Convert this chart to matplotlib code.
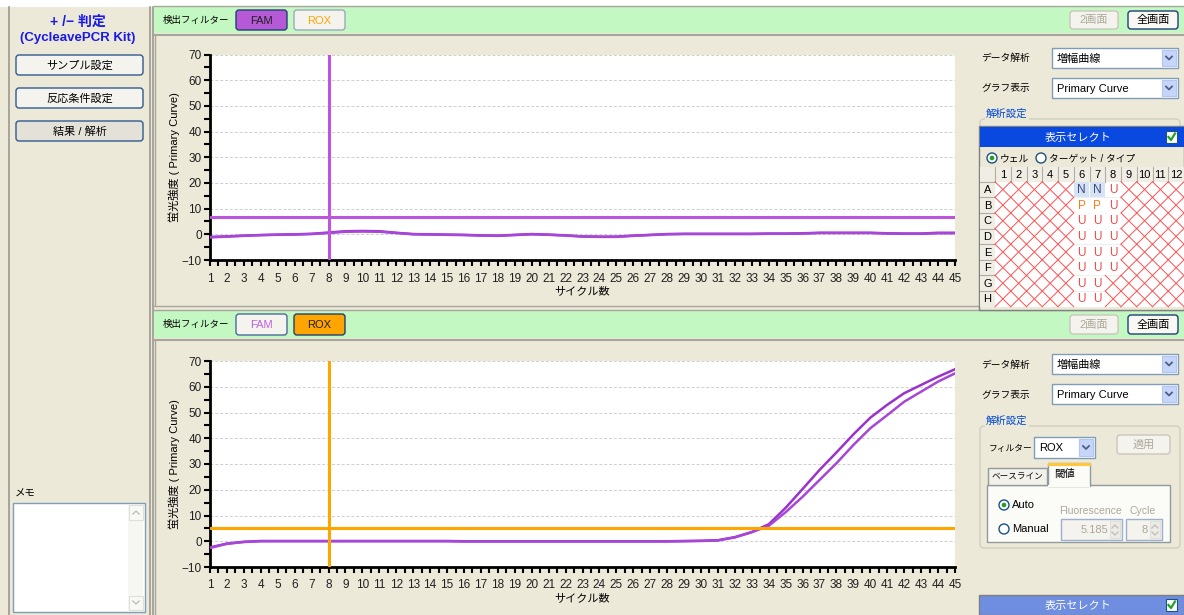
import matplotlib
matplotlib.use('Agg')
import matplotlib.pyplot as plt
from matplotlib.patches import Rectangle, FancyBboxPatch, Circle
from matplotlib.ticker import MultipleLocator, FixedLocator

plt.rcParams['font.family'] = ['Liberation Sans', 'Noto Sans CJK JP']

W, H = 1184, 615

# ---------------- data ----------------
cycles = list(range(1, 46))
fam_well_a = [-1.0, -0.8, -0.5, -0.3, -0.1, 0.0, 0.2, 0.7, 1.2, 1.3,
              1.2, 0.6, 0.1, 0.0, -0.1, -0.2, -0.4, -0.5, -0.2, 0.1,
              -0.1, -0.4, -0.8, -0.9, -0.9, -0.5, -0.2, 0.1, 0.2, 0.2,
              0.2, 0.2, 0.2, 0.3, 0.3, 0.4, 0.6, 0.6, 0.6, 0.6,
              0.4, 0.3, 0.3, 0.6, 0.6]
fam_well_b = [-1.2, -0.9, -0.6, -0.3, -0.2, -0.1, 0.1, 0.5, 1.0, 1.1,
              1.0, 0.5, 0.0, -0.1, -0.2, -0.3, -0.5, -0.6, -0.3, 0.0,
              -0.2, -0.5, -0.9, -1.0, -1.0, -0.6, -0.3, 0.0, 0.1, 0.1,
              0.1, 0.1, 0.1, 0.2, 0.2, 0.3, 0.5, 0.5, 0.5, 0.5,
              0.3, 0.2, 0.2, 0.4, 0.4]
rox_well_a = [-2.4, -0.9, -0.2, 0.1, 0.1, 0.1, 0.1, 0.1, 0.1, 0.1,
              0.1, 0.1, 0.1, 0.1, 0.1, 0.0, 0.0, 0.0, 0.0, 0.0,
              0.0, 0.0, 0.0, 0.0, 0.0, 0.0, 0.0, 0.0, 0.1, 0.2,
              0.4, 1.6, 3.6, 6.6, 13.0, 20.3, 27.7, 34.5, 41.5, 48.0,
              53.0, 57.5, 60.7, 63.9, 66.8]
rox_well_b = [-2.6, -1.0, -0.3, 0.0, 0.0, 0.0, 0.0, 0.0, 0.0, 0.0,
              0.0, 0.0, 0.0, 0.0, 0.0, -0.1, -0.1, -0.1, -0.1, -0.1,
              -0.1, -0.1, -0.1, -0.1, -0.1, -0.1, -0.1, -0.1, 0.0, 0.1,
              0.3, 1.5, 3.5, 6.0, 11.3, 17.3, 23.8, 30.3, 37.4, 43.9,
              49.0, 54.2, 58.1, 62.0, 65.2]
fam_threshold = 6.9
rox_threshold = 5.185
baseline_cycle = 8
x_ticks = list(range(1, 46))
y_ticks = list(range(-10, 71, 10))

plate_rows = ['A', 'B', 'C', 'D', 'E', 'F', 'G', 'H']
plate_cols = [str(i) for i in range(1, 13)]
plate_calls = [".....NNU....",
               ".....PPU....",
               ".....UUU....",
               ".....UUU....",
               ".....UUU....",
               ".....UUU....",
               ".....UU.....",
               ".....UU....."]

BEIGE = '#ECE9D8'
GREEN = '#C3F8C3'
PURPLE = '#9A33CC'
PURPLE_L = '#BA55DC'
ORANGE = '#FFA500'

fig = plt.figure(figsize=(W / 100, H / 100), dpi=100, facecolor=BEIGE)
bg = fig.add_axes([0, 0, 1, 1])
bg.set_xlim(0, W)
bg.set_ylim(H, 0)
bg.axis('off')
bg.set_zorder(0)


def rect(x0, y0, x1, y1, fc='none', ec='none', lw=1.0, z=1):
    bg.add_patch(Rectangle((x0, y0), x1 - x0, y1 - y0, fc=fc, ec=ec, lw=lw, zorder=z))


def button(x0, y0, x1, y1, text, fc='#F4F3EE', ec='#2F5A8F', tc='black', fs=8, z=3):
    bg.add_patch(FancyBboxPatch((x0, y0), x1 - x0, y1 - y0,
                                boxstyle='round,pad=0,rounding_size=3',
                                fc=fc, ec=ec, lw=1.0, zorder=z))
    bg.text((x0 + x1) / 2, (y0 + y1) / 2 + 0.5, text, ha='center', va='center',
            fontsize=fs, color=tc, zorder=z + 1)


def combo(x0, y0, x1, y1, text):
    rect(x0, y0, x1, y1, fc='white', ec='#7F9DB9', z=3)
    rect(x1 - 16, y0 + 2, x1 - 2, y1 - 2, fc='#C6D6FB', ec='#B4C6EE', lw=0.8, z=4)
    yc = (y0 + y1) / 2
    bg.plot([x1 - 12, x1 - 9, x1 - 6], [yc - 1.5, yc + 1.5, yc - 1.5],
            color='#4D6185', lw=1.3, zorder=5)
    bg.text(x0 + 5, yc + 0.5, text, ha='left', va='center', fontsize=8, zorder=5)


def radio(x, y, selected):
    bg.add_patch(Circle((x, y), 5, fc='white', ec='#1C5180', lw=1.0, zorder=5))
    if selected:
        bg.add_patch(Circle((x, y), 2.3, fc='#21A121', ec='none', zorder=6))


# ---------------- frame / left panel ----------------
rect(0, 0, W, 7, fc='white', z=1)
bg.plot([9, 9], [7, H], color='#9A9890', lw=1.2, zorder=2)
bg.plot([150, 150], [7, H], color='#9A9890', lw=1.2, zorder=2)
bg.plot([153, 153], [7, H], color='#9A9890', lw=1.2, zorder=2)

bg.text(78, 22, '+ /− 判定', ha='center', va='center', fontsize=10,
        color='#1A1AE6', fontweight='bold')
bg.text(78, 38, '(CycleavePCR Kit)', ha='center', va='center', fontsize=9.5,
        color='#1A1AE6', fontweight='bold')
button(16, 55, 143, 75, 'サンプル設定')
button(16, 88, 143, 108, '反応条件設定')
button(16, 121, 143, 141, '結果 / 解析', fc='#E3E1D8')

bg.text(15, 494, 'メモ', ha='left', va='center', fontsize=7.5)
rect(13, 503, 145, 612, fc='white', ec='#7F9DB9', z=3)
rect(128, 505, 143, 610, fc='#F6F6F2', ec='none', z=4)
rect(129, 505, 143, 520, fc='#F8F8F4', ec='#E0E0DA', lw=0.8, z=5)
rect(129, 596, 143, 610, fc='#F8F8F4', ec='#E0E0DA', lw=0.8, z=5)
bg.plot([133, 136, 139], [514, 511, 514], color='#C0C0C0', lw=1, zorder=6)
bg.plot([133, 136, 139], [601, 604, 601], color='#C0C0C0', lw=1, zorder=6)

# ---------------- green header bars ----------------
for (gy0, gy1, fam_active) in [(7, 33, True), (311, 338, False)]:
    rect(154, gy0, W, gy1, fc=GREEN, z=1)
    bg.plot([154, W], [gy1 + 1.5, gy1 + 1.5], color='#A8A69C', lw=1.5, zorder=2)
    bg.plot([154, W], [gy0 - 1.5, gy0 - 1.5], color='#A8A69C', lw=1.0, zorder=2)
    yc = (gy0 + gy1) / 2
    bg.text(163, yc, '検出フィルター', ha='left', va='center', fontsize=6.8)
    if fam_active:
        button(236, gy0 + 3, 287, gy1 - 3, 'FAM', fc='#B659D6', ec='#1F3F73', tc='#202020')
        button(294, gy0 + 3, 345, gy1 - 3, 'ROX', fc='#F4F3EE', ec='#9CA9BC', tc=ORANGE)
    else:
        button(236, gy0 + 3, 287, gy1 - 3, 'FAM', fc='#F4F3EE', ec='#4A6B9A', tc='#C060E0')
        button(294, gy0 + 3, 345, gy1 - 3, 'ROX', fc=ORANGE, ec='#1F3F73', tc='#202020')
    button(1070, gy0 + 4, 1118, gy1 - 4, '2画面', fc='#F4F3EE', ec='#C9C7BA', tc='#ACA899')
    button(1128, gy0 + 4, 1178, gy1 - 4, '全画面', fc='#F8F8F4', ec='#1F3F73')

bg.plot([155, 155], [35, 305], color='#A8A69C', lw=1.0, zorder=2)
bg.plot([155, 155], [340, H], color='#A8A69C', lw=1.0, zorder=2)
bg.plot([154, W], [306, 306], color='#A8A69C', lw=1.0, zorder=2)

# ---------------- right panel (top) ----------------
for (yy, combo_y) in [(58, 48), (365, 354)]:
    bg.text(981, yy, 'データ解析', ha='left', va='center', fontsize=7)
    combo(1052, combo_y, 1178, combo_y + 20, '増幅曲線')
    bg.text(981, yy + 30, 'グラフ表示', ha='left', va='center', fontsize=7)
    combo(1052, combo_y + 30, 1178, combo_y + 50, 'Primary Curve')

# group box top
bg.add_patch(FancyBboxPatch((980, 119), 200, 180, boxstyle='round,pad=0,rounding_size=4',
                            fc='none', ec='#D0D0BF', lw=1.0, zorder=2))
bg.text(986, 114, '解析設定', ha='left', va='center', fontsize=7.5, color='#0046D5',
        zorder=4, bbox=dict(fc=BEIGE, ec='none', pad=1))

# plate selection box
rect(979, 126, W, 310, fc=BEIGE, ec='#808080', lw=1.0, z=3)
rect(980, 127, W, 147, fc='#0A49E0', ec='none', z=4)
bg.text(1078, 137.5, '表示セレクト', ha='center', va='center', fontsize=8, color='white', zorder=5)
rect(1166, 131, 1177, 143, fc='white', ec='#1C5180', lw=0.8, z=5)
bg.plot([1168.5, 1171, 1175], [137, 140, 133.5], color='#21A121', lw=1.6, zorder=6)

radio(992, 158, True)
bg.text(1000, 158, 'ウェル', ha='left', va='center', fontsize=7, zorder=5)
radio(1041, 158, False)
bg.text(1049, 158, 'ターゲット / タイプ', ha='left', va='center', fontsize=7, zorder=5)

gx0, gxl, gy0, gyh = 980, 995, 167, 181.7
cw = (W - gxl) / 12.0
rh = (306.7 - gyh) / 8.0
rect(gx0, gy0, W, gyh, fc='#F0EEE4', ec='none', z=4)
rect(gx0, gyh, gxl, 306.7, fc='#F0EEE4', ec='none', z=4)
for j, lab in enumerate(plate_cols):
    cx = gxl + j * cw
    bg.plot([cx, cx], [gy0, gyh], color='#B0AEA4', lw=0.8, zorder=5)
    bg.text(cx + cw / 2, (gy0 + gyh) / 2 + 0.5, lab, ha='center', va='center', fontsize=8, zorder=6)
for i, lab in enumerate(plate_rows):
    ry = gyh + i * rh
    bg.plot([gx0, gxl], [ry, ry], color='#B0AEA4', lw=0.8, zorder=5)
    bg.text((gx0 + gxl) / 2, ry + rh / 2 + 0.5, lab, ha='center', va='center', fontsize=8, zorder=6)
rect(gxl, gyh, W, 306.7, fc='white', ec='none', z=4)
call_style = {'N': ('#3A4A7A', '#D6E2F6'), 'P': ('#FF7A1E', 'white'), 'U': ('#F04848', 'white')}
for i, row in enumerate(plate_calls):
    for j, ch in enumerate(row):
        x0 = gxl + j * cw
        y0 = gyh + i * rh
        if ch == '.':
            bg.plot([x0, x0 + cw], [y0, y0 + rh], color='#FF5050', lw=0.7, zorder=5)
            bg.plot([x0, x0 + cw], [y0 + rh, y0], color='#FF5050', lw=0.7, zorder=5)
        else:
            tc, fc = call_style[ch]
            rect(x0 + 0.5, y0 + 0.5, x0 + cw - 0.5, y0 + rh - 0.5, fc=fc, ec='none', z=5)
            bg.text(x0 + cw / 2, y0 + rh / 2 + 0.5, ch, ha='center', va='center',
                    fontsize=8.5, color=tc, zorder=6)
            bg.plot([x0, x0 + cw], [y0 + rh, y0 + rh], color='#EEEEEE', lw=0.6, zorder=5)

# ---------------- right panel (bottom) ----------------
bg.add_patch(FancyBboxPatch((980, 426), 200, 122, boxstyle='round,pad=0,rounding_size=4',
                            fc='none', ec='#D0D0BF', lw=1.0, zorder=2))
bg.text(986, 421, '解析設定', ha='left', va='center', fontsize=7.5, color='#0046D5',
        zorder=4, bbox=dict(fc=BEIGE, ec='none', pad=1))
bg.text(989, 448, 'フィルター', ha='left', va='center', fontsize=6.3)
combo(1034, 437, 1095, 458, 'ROX')
button(1117, 435, 1170, 454, '適用', fc='#F4F3EE', ec='#C9C7BA', tc='#ACA899')

rect(987, 485, 1170, 542, fc='#FBFBF8', ec='#919B9C', lw=1.0, z=3)
rect(988, 468, 1047, 485, fc='#F2F1EA', ec='#919B9C', lw=1.0, z=3)
bg.text(1017.5, 477, 'ベースライン', ha='center', va='center', fontsize=6.2, zorder=5)
rect(1048, 463, 1090, 486, fc='#FBFBF8', ec='#919B9C', lw=1.0, z=4)
rect(1048, 485, 1090, 487, fc='#FBFBF8', ec='none', z=5)
bg.plot([1049, 1089], [463.5, 463.5], color='#FFC83C', lw=2.2, zorder=6)
bg.text(1054, 474, '閾値', ha='left', va='center', fontsize=7.5, zorder=6)

radio(1004, 505, True)
bg.text(1012, 505, 'Auto', ha='left', va='center', fontsize=8, zorder=5)
radio(1004, 529, False)
bg.text(1012, 529, 'Manual', ha='left', va='center', fontsize=8, zorder=5)
bg.text(1090, 511, 'Fluorescence', ha='center', va='center', fontsize=7.5, color='#ACA899', zorder=5)
bg.text(1143, 511, 'Cycle', ha='center', va='center', fontsize=7.5, color='#ACA899', zorder=5)
for (sx0, sx1, sval) in [(1061, 1122, '5.185'), (1126, 1162, '8')]:
    rect(sx0, 519, sx1, 540, fc='#F4F3EE', ec='#9DB0CC', lw=1.0, z=5)
    rect(sx1 - 12, 521, sx1 - 2, 538, fc='#ECEBE4', ec='#DDDDDD', lw=0.6, z=6)
    bg.plot([sx1 - 10, sx1 - 7, sx1 - 4], [528, 525, 528], color='#C0C0C0', lw=1, zorder=7)
    bg.plot([sx1 - 10, sx1 - 7, sx1 - 4], [532, 535, 532], color='#C0C0C0', lw=1, zorder=7)
    bg.text(sx1 - 14, 530, sval, ha='right', va='center', fontsize=8, color='#ACA899', zorder=7)

rect(979, 595, W, H, fc='#6F8EE0', ec='#7F7F7F', lw=1.0, z=3)
bg.text(1078, 605.5, '表示セレクト', ha='center', va='center', fontsize=8, color='white', zorder=5)
rect(1166, 599, 1177, 611, fc='white', ec='#1C5180', lw=0.8, z=5)
bg.plot([1168.5, 1171, 1175], [605, 608, 601.5], color='#21A121', lw=1.6, zorder=6)


# ---------------- charts ----------------
def chart(y_top, y_bottom, series, threshold, marker_color):
    ax = fig.add_axes([210 / W, 1 - y_bottom / H, (955 - 210) / W, (y_bottom - y_top) / H])
    ax.set_zorder(2)
    ax.set_facecolor('white')
    ax.set_xlim(1, 45)
    ax.set_ylim(-10, 70)
    for s in ['top', 'right']:
        ax.spines[s].set_visible(False)
    for s in ['left', 'bottom']:
        ax.spines[s].set_linewidth(2)
        ax.spines[s].set_color('black')
    ax.xaxis.set_major_locator(FixedLocator(x_ticks))
    ax.xaxis.set_minor_locator(MultipleLocator(0.5))
    ax.yaxis.set_major_locator(FixedLocator(y_ticks))
    ax.yaxis.set_minor_locator(MultipleLocator(5))
    ax.tick_params(axis='both', which='major', direction='out', length=4, width=1.5,
                   labelsize=8.5, pad=2, color='black', labelcolor='#202020')
    ax.tick_params(axis='both', which='minor', direction='out', length=4, width=1.5, color='black')
    ax.tick_params(axis='x', pad=5)
    ax.grid(axis='y', which='major', linestyle=(0, (3, 2)), color='#CFCFCF', lw=0.7)
    ax.set_axisbelow(True)
    for k, ys in enumerate(series):
        ax.plot(cycles, ys, color=PURPLE if k == 0 else '#A747D8', lw=1.8, zorder=3)
    ax.axhline(threshold, color=marker_color, lw=2.2, zorder=4)
    ax.axvline(baseline_cycle, color=marker_color, lw=2.2, zorder=4)
    ax.set_xlabel('サイクル数', fontsize=8, labelpad=1)
    ax.set_ylabel('蛍光強度 ( Primary Curve)', fontsize=8, labelpad=1)
    return ax


chart(54.5, 260, [fam_well_a, fam_well_b], fam_threshold, PURPLE_L)
chart(361, 567, [rox_well_a, rox_well_b], rox_threshold, ORANGE)

fig.savefig('out.png', dpi=100, facecolor=BEIGE)
